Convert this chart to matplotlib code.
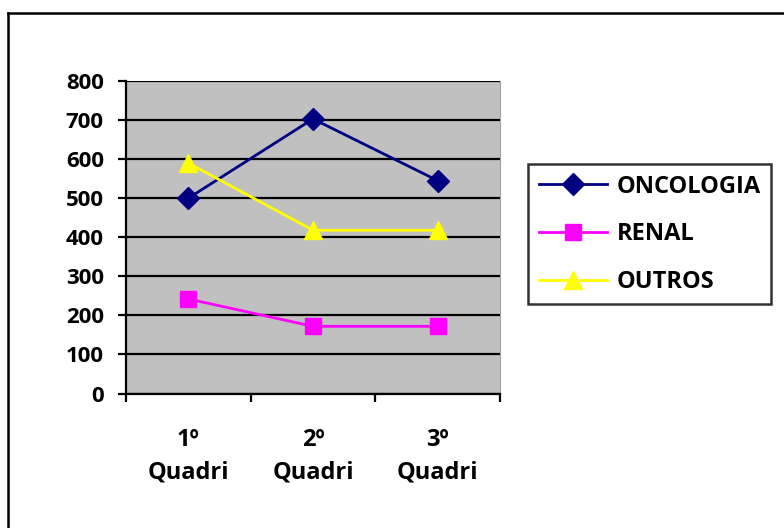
import matplotlib.pyplot as plt
from matplotlib.lines import Line2D

categories = ['1º\nQuadri', '2º\nQuadri', '3º\nQuadri']
oncologia = [500, 703, 545]
renal = [242, 172, 172]
outros = [590, 418, 418]

plt.rcParams['font.family'] = ['Open Sans', 'DejaVu Sans']
plt.rcParams['font.weight'] = 'bold'

fig = plt.figure(figsize=(7.84, 5.28), dpi=100)

# outer chart frame (only top and left edges visible)
fig.add_artist(Line2D([7.5 / 784, 7.5 / 784], [0, 1 - 13 / 528], color='black', lw=1.8))
fig.add_artist(Line2D([7.5 / 784, 1], [1 - 13 / 528, 1 - 13 / 528], color='black', lw=1.8))

ax = fig.add_axes([126 / 784, 1 - 393.5 / 528, 374 / 784, 312.5 / 528])
ax.set_facecolor('#C0C0C0')

x = [i + 0.5 for i in range(len(categories))]
ax.plot(x, oncologia, color='#000080', lw=2, marker='D', markersize=11, label='ONCOLOGIA')
ax.plot(x, renal, color='#FF00FF', lw=2, marker='s', markersize=11, label='RENAL')
ax.plot(x, outros, color='#FFFF00', lw=2, marker='^', markersize=13, label='OUTROS')

ax.set_xlim(0, 3)
ax.set_ylim(0, 800)
ax.set_yticks(range(0, 801, 100))
ax.set_xticks([0, 1, 2, 3])
ax.set_xticklabels([])
ax.set_xticks(x, minor=True)
ax.set_xticklabels(categories, minor=True, fontsize=17, fontweight='bold', linespacing=1.45)
ax.tick_params(axis='x', which='minor', length=0, pad=25)
ax.tick_params(axis='x', which='major', length=6, width=1.6, direction='out')
ax.tick_params(axis='y', length=6, width=1.6, direction='out', labelsize=16, pad=10)
for lab in ax.get_yticklabels():
    lab.set_fontweight('bold')

ax.grid(axis='y', color='black', lw=1.6)
ax.set_axisbelow(True)
ax.spines['top'].set_visible(False)
ax.spines['right'].set_color('#A0A0A0')
ax.spines['left'].set_linewidth(1.6)
ax.spines['bottom'].set_linewidth(1.6)

leg = fig.legend(loc='upper left', bbox_to_anchor=(528 / 784, 1 - 164 / 528),
                 borderaxespad=0, frameon=True, fancybox=False, edgecolor='black',
                 prop={'size': 17, 'weight': 'bold'}, handlelength=2.9,
                 labelspacing=1.0, borderpad=0.45, handletextpad=0.4)
leg.get_frame().set_linewidth(1.8)

fig.savefig('out.png', dpi=100)
